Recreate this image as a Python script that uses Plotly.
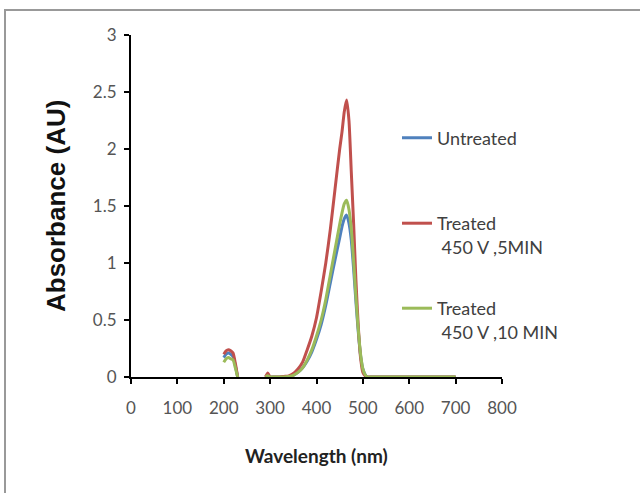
import plotly.graph_objects as go

wavelength = [200, 205, 210, 215, 220, 225, 230, 260, 290, 295, 300, 310, 320, 330, 340, 350, 360, 370,
              380, 390, 400, 410, 420, 430, 440, 450, 455, 460, 465, 470, 475, 480, 485, 490, 495,
              500, 505, 510, 520, 550, 600, 650, 700]

untreated = [0.17, 0.20, 0.21, 0.20, 0.18, 0.10, 0.0, None, 0.0, 0.01, 0.0, 0.0, 0.0, 0.0, 0.005, 0.015, 0.04, 0.08,
             0.14, 0.22, 0.33, 0.46, 0.63, 0.83, 1.03, 1.22, 1.32, 1.39, 1.42, 1.35, 1.20, 0.95, 0.66, 0.40, 0.19,
             0.07, 0.02, 0.0, 0.0, 0.0, 0.0, 0.0, 0.0]

treated_5min = [0.20, 0.23, 0.24, 0.23, 0.21, 0.12, 0.0, None, 0.0, 0.035, 0.0, 0.0, 0.0, 0.005, 0.01, 0.03, 0.07, 0.13,
                0.24, 0.36, 0.52, 0.75, 1.00, 1.30, 1.65, 2.00, 2.15, 2.33, 2.43, 2.25, 1.80, 1.35, 0.85, 0.45, 0.17,
                0.04, 0.01, 0.0, 0.0, 0.0, 0.0, 0.0, 0.0]

treated_10min = [0.13, 0.16, 0.17, 0.16, 0.15, 0.08, 0.0, None, 0.0, 0.01, 0.0, 0.0, 0.0, 0.0, 0.005, 0.015, 0.04, 0.08,
                 0.15, 0.24, 0.36, 0.50, 0.68, 0.90, 1.12, 1.34, 1.44, 1.52, 1.55, 1.47, 1.30, 1.02, 0.70, 0.42, 0.20,
                 0.07, 0.02, 0.0, 0.0, 0.0, 0.0, 0.0, 0.0]

x_ticks = [0, 100, 200, 300, 400, 500, 600, 700, 800]
y_ticks = [0, 0.5, 1, 1.5, 2, 2.5, 3]
y_ticktext = ["0", "0.5", "1", "1.5", "2", "2.5", "3"]

names = ["Untreated", "Treated<br> 450 V ,5MIN", "Treated<br> 450 V ,10 MIN"]
colors = ["#4F81BD", "#C0504D", "#9BBB59"]
series = [untreated, treated_5min, treated_10min]
legends = ["legend", "legend2", "legend3"]

fig = go.Figure()
for name, col, ys, lg in zip(names, colors, series, legends):
    fig.add_trace(go.Scatter(x=wavelength, y=ys, mode="lines", name=name,
                             line=dict(color=col, width=3, shape="spline", smoothing=0.6),
                             connectgaps=False, legend=lg))

FONT = "Lato, Open Sans, sans-serif"
leg_font = dict(family=FONT, size=18, color="#404040")
leg_common = dict(font=leg_font, bgcolor="rgba(0,0,0,0)", valign="top", xanchor="left",
                  yanchor="middle", itemwidth=30, tracegroupgap=0)

fig.update_layout(
    width=640, height=493,
    margin=dict(l=131, r=138, t=35, b=116),
    paper_bgcolor="white", plot_bgcolor="white",
    showlegend=True,
    legend=dict(x=0.717, y=(377 - 138) / 342, **leg_common),
    legend2=dict(x=0.717, y=(377 - 235) / 342, **leg_common),
    legend3=dict(x=0.717, y=(377 - 320) / 342, **leg_common),
    xaxis=dict(range=[0, 800], tickvals=x_ticks,
               showgrid=False, zeroline=False, showline=True, linecolor="black", linewidth=2,
               ticks="outside", ticklen=5, tickwidth=2, tickcolor="black", ticklabelstandoff=10,
               tickfont=dict(family=FONT, size=17, color="#555555")),
    yaxis=dict(range=[0, 3], tickvals=y_ticks, ticktext=y_ticktext,
               showgrid=False, zeroline=False, showline=True, linecolor="black", linewidth=2,
               ticks="outside", ticklen=5, tickwidth=2, tickcolor="black", ticklabelstandoff=4,
               tickfont=dict(family=FONT, size=17, color="#555555")),
    annotations=[
        dict(text="<b>Absorbance (AU)</b>", xref="paper", yref="paper",
             x=(56 - 131) / 371, y=(377 - 206) / 342, xanchor="center", yanchor="middle",
             textangle=-90, showarrow=False,
             font=dict(family="Liberation Sans, Arial, sans-serif", size=26, color="#111111")),
        dict(text="<b>Wavelength (nm)</b>", xref="paper", yref="paper",
             x=0.5, y=(377 - 455) / 342, xanchor="center", yanchor="middle",
             showarrow=False,
             font=dict(family=FONT, size=19, color="#222222")),
    ],
)

# outer chart frame (top and left edges visible)
fig.add_shape(type="rect", xref="paper", yref="paper",
              x0=(5 - 131) / 371, x1=(660 - 131) / 371,
              y0=(377 - 510) / 342, y1=(377 - 10) / 342,
              line=dict(color="#999999", width=2), fillcolor="rgba(0,0,0,0)", layer="below")

fig.write_html("out.html")
